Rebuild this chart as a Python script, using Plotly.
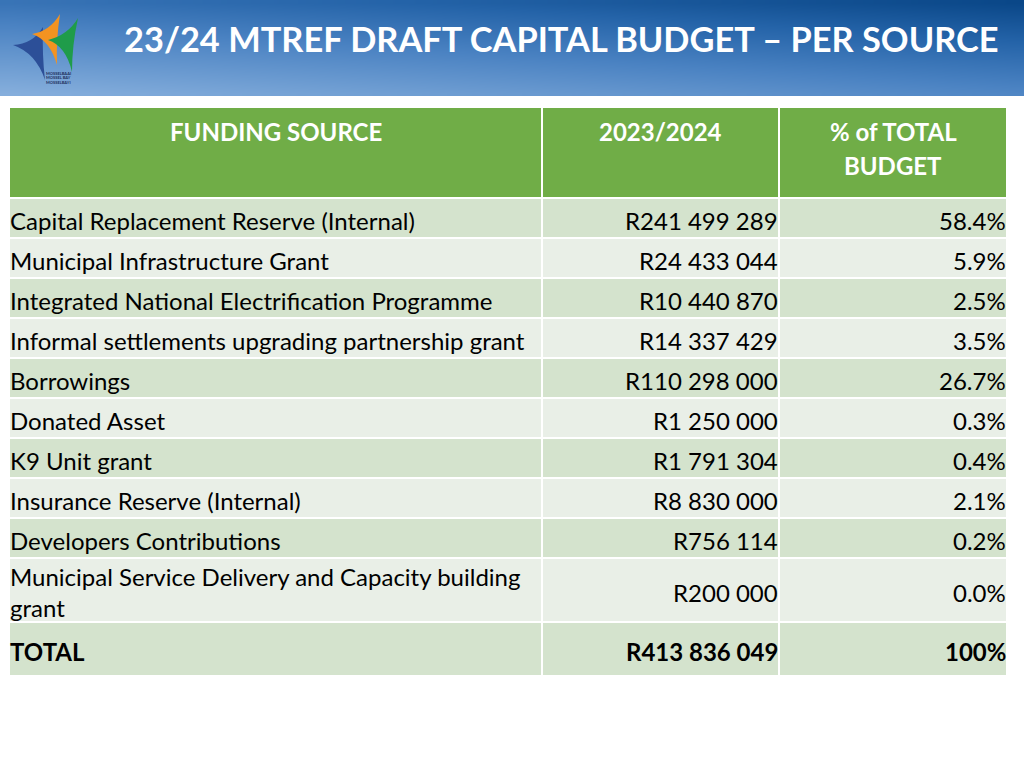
import numpy as np
import plotly.graph_objects as go

title = "23/24 MTREF DRAFT CAPITAL BUDGET \u2013 PER SOURCE"
headers = ["FUNDING SOURCE", "2023/2024", "% of TOTAL<br>BUDGET"]
sources = [
    "Capital Replacement Reserve (Internal)",
    "Municipal Infrastructure Grant",
    "Integrated National Electrification Programme",
    "Informal settlements upgrading partnership grant",
    "Borrowings",
    "Donated Asset",
    "K9 Unit grant",
    "Insurance Reserve (Internal)",
    "Developers Contributions",
    "Municipal Service Delivery and Capacity building<br>grant",
]
amounts = [241499289, 24433044, 10440870, 14337429, 110298000,
           1250000, 1791304, 8830000, 756114, 200000]
percents = ["58.4%", "5.9%", "2.5%", "3.5%", "26.7%",
            "0.3%", "0.4%", "2.1%", "0.2%", "0.0%"]
total_label = "TOTAL"
total_amount = 413836049
total_percent = "100%"
logo_words = ["MOSSELBAAI", "MOSSEL BAY", "MOSSELBAYI"]


def rand(v):
    return "R" + f"{v:,}".replace(",", " ")


# ---- layout constants (pixels) ----
FONT = "Lato"
FS = 24
COL_EDGES = [10, 542, 779, 1006]
TABLE_TOP = 108
HEADER_H = 91
HEADER_LINE = 34
LINE_H = 40
LINE_EXTRA = 24
TOTAL_H = 54
GAP = 2
TEXT_DY = 2

HEADER_FILL = "#70ad47"
DARK = "#d4e3cd"
LIGHT = "#e9efe7"

rows = []
for s, a, p in zip(sources, amounts, percents):
    rows.append(([s, rand(a), p], False))
rows.append((["<b>" + total_label + "</b>", "<b>" + rand(total_amount) + "</b>",
              "<b>" + total_percent + "</b>"], True))

fig = go.Figure()

# ---- banner gradient ----
nx, ny = 64, 16
bxe = np.linspace(0, 1024, nx + 1)
bye = np.linspace(0, 96, ny + 1)
bxc = (bxe[:-1] + bxe[1:]) / 2 / 1024
byc = (bye[:-1] + bye[1:]) / 2 / 96
BX, BY = np.meshgrid(bxc, byc)
Z = 0.6 * (1 - BY) + 0.4 * BX
fig.add_trace(go.Heatmap(
    z=Z, x=bxe, y=bye, showscale=False, hoverinfo="skip",
    colorscale=[[0, "#85aedc"], [0.45, "#4a82c2"], [0.75, "#2463a8"], [1, "#0a4788"]],
    zsmooth="best",
))


# ---- table ----
def cell_rect(x0, x1, y0, y1, color):
    fig.add_shape(type="rect", x0=x0, x1=x1, y0=y0, y1=y1, xref="x", yref="y",
                  fillcolor=color, line=dict(width=0), layer="above")


def col_bounds(j):
    x0 = COL_EDGES[j] + (GAP / 2 if j > 0 else 0)
    x1 = COL_EDGES[j + 1] - (GAP / 2 if j < len(COL_EDGES) - 2 else 0)
    return x0, x1


# header
y0 = TABLE_TOP
y1 = TABLE_TOP + HEADER_H - GAP
for j, h in enumerate(headers):
    x0, x1 = col_bounds(j)
    cell_rect(x0, x1, y0, y1, HEADER_FILL)
    for k, part in enumerate(h.split("<br>")):
        fig.add_annotation(x=(x0 + x1) / 2, y=y0 + 23 + k * HEADER_LINE,
                           text="<b>" + part + "</b>",
                           showarrow=False, xanchor="center", yanchor="middle",
                           font=dict(family=FONT, size=FS, color="white"))

y = TABLE_TOP + HEADER_H
for i, (vals, is_total) in enumerate(rows):
    nlines = max(v.count("<br>") + 1 for v in vals)
    h = TOTAL_H if is_total else LINE_H + LINE_EXTRA * (nlines - 1)
    fill = DARK if i % 2 == 0 else LIGHT
    ym = y + (h - GAP) / 2 + TEXT_DY
    for j, v in enumerate(vals):
        x0, x1 = col_bounds(j)
        cell_rect(x0, x1, y, y + h - GAP, fill)
        if j == 0:
            fig.add_annotation(x=x0 - 2, y=ym, text=v, showarrow=False,
                               xanchor="left", yanchor="middle", align="left",
                               font=dict(family=FONT, size=FS, color="black"))
        else:
            fig.add_annotation(x=x1 + 2, y=ym, text=v, showarrow=False,
                               xanchor="right", yanchor="middle", align="right",
                               font=dict(family=FONT, size=FS, color="black"))
    y += h

# ---- logo ----
logo_shapes = [
    ("M 13 45 Q 33 44 43 27 Q 42 55 45 80 Q 36 53 13 45 Z", "#2c4f98"),
    ("M 32 34 Q 50 31 60 14 Q 56 40 57 65 Q 50 40 32 34 Z", "#f39321"),
    ("M 48 40 Q 68 35 78 18 Q 72 45 72 72 Q 66 46 48 40 Z", "#1f9c4a"),
]
for path, col in logo_shapes:
    fig.add_shape(type="path", path=path, xref="x", yref="y",
                  fillcolor=col, line=dict(width=0), layer="above")
for i, t in enumerate(logo_words):
    fig.add_annotation(x=44, y=73 + i * 4.5, text="<b>" + t + "</b>",
                       showarrow=False, xanchor="left", yanchor="middle",
                       font=dict(family=FONT, size=4, color="#1e2d5a"))

# ---- title ----
fig.add_annotation(x=561, y=38, text="<b>" + title + "</b>",
                   showarrow=False, xanchor="center", yanchor="middle",
                   font=dict(family=FONT, size=34.4, color="white"))

fig.update_layout(
    width=1024, height=768,
    margin=dict(l=0, r=0, t=0, b=0),
    paper_bgcolor="white", plot_bgcolor="white",
    showlegend=False,
    xaxis=dict(domain=[0, 1], range=[0, 1024], visible=False, fixedrange=True),
    yaxis=dict(domain=[0, 1], range=[768, 0], visible=False, fixedrange=True),
)

fig.write_html("out.html", config={"displayModeBar": False},
               post_script="document.body.style.margin='0';document.body.style.padding='0';")
